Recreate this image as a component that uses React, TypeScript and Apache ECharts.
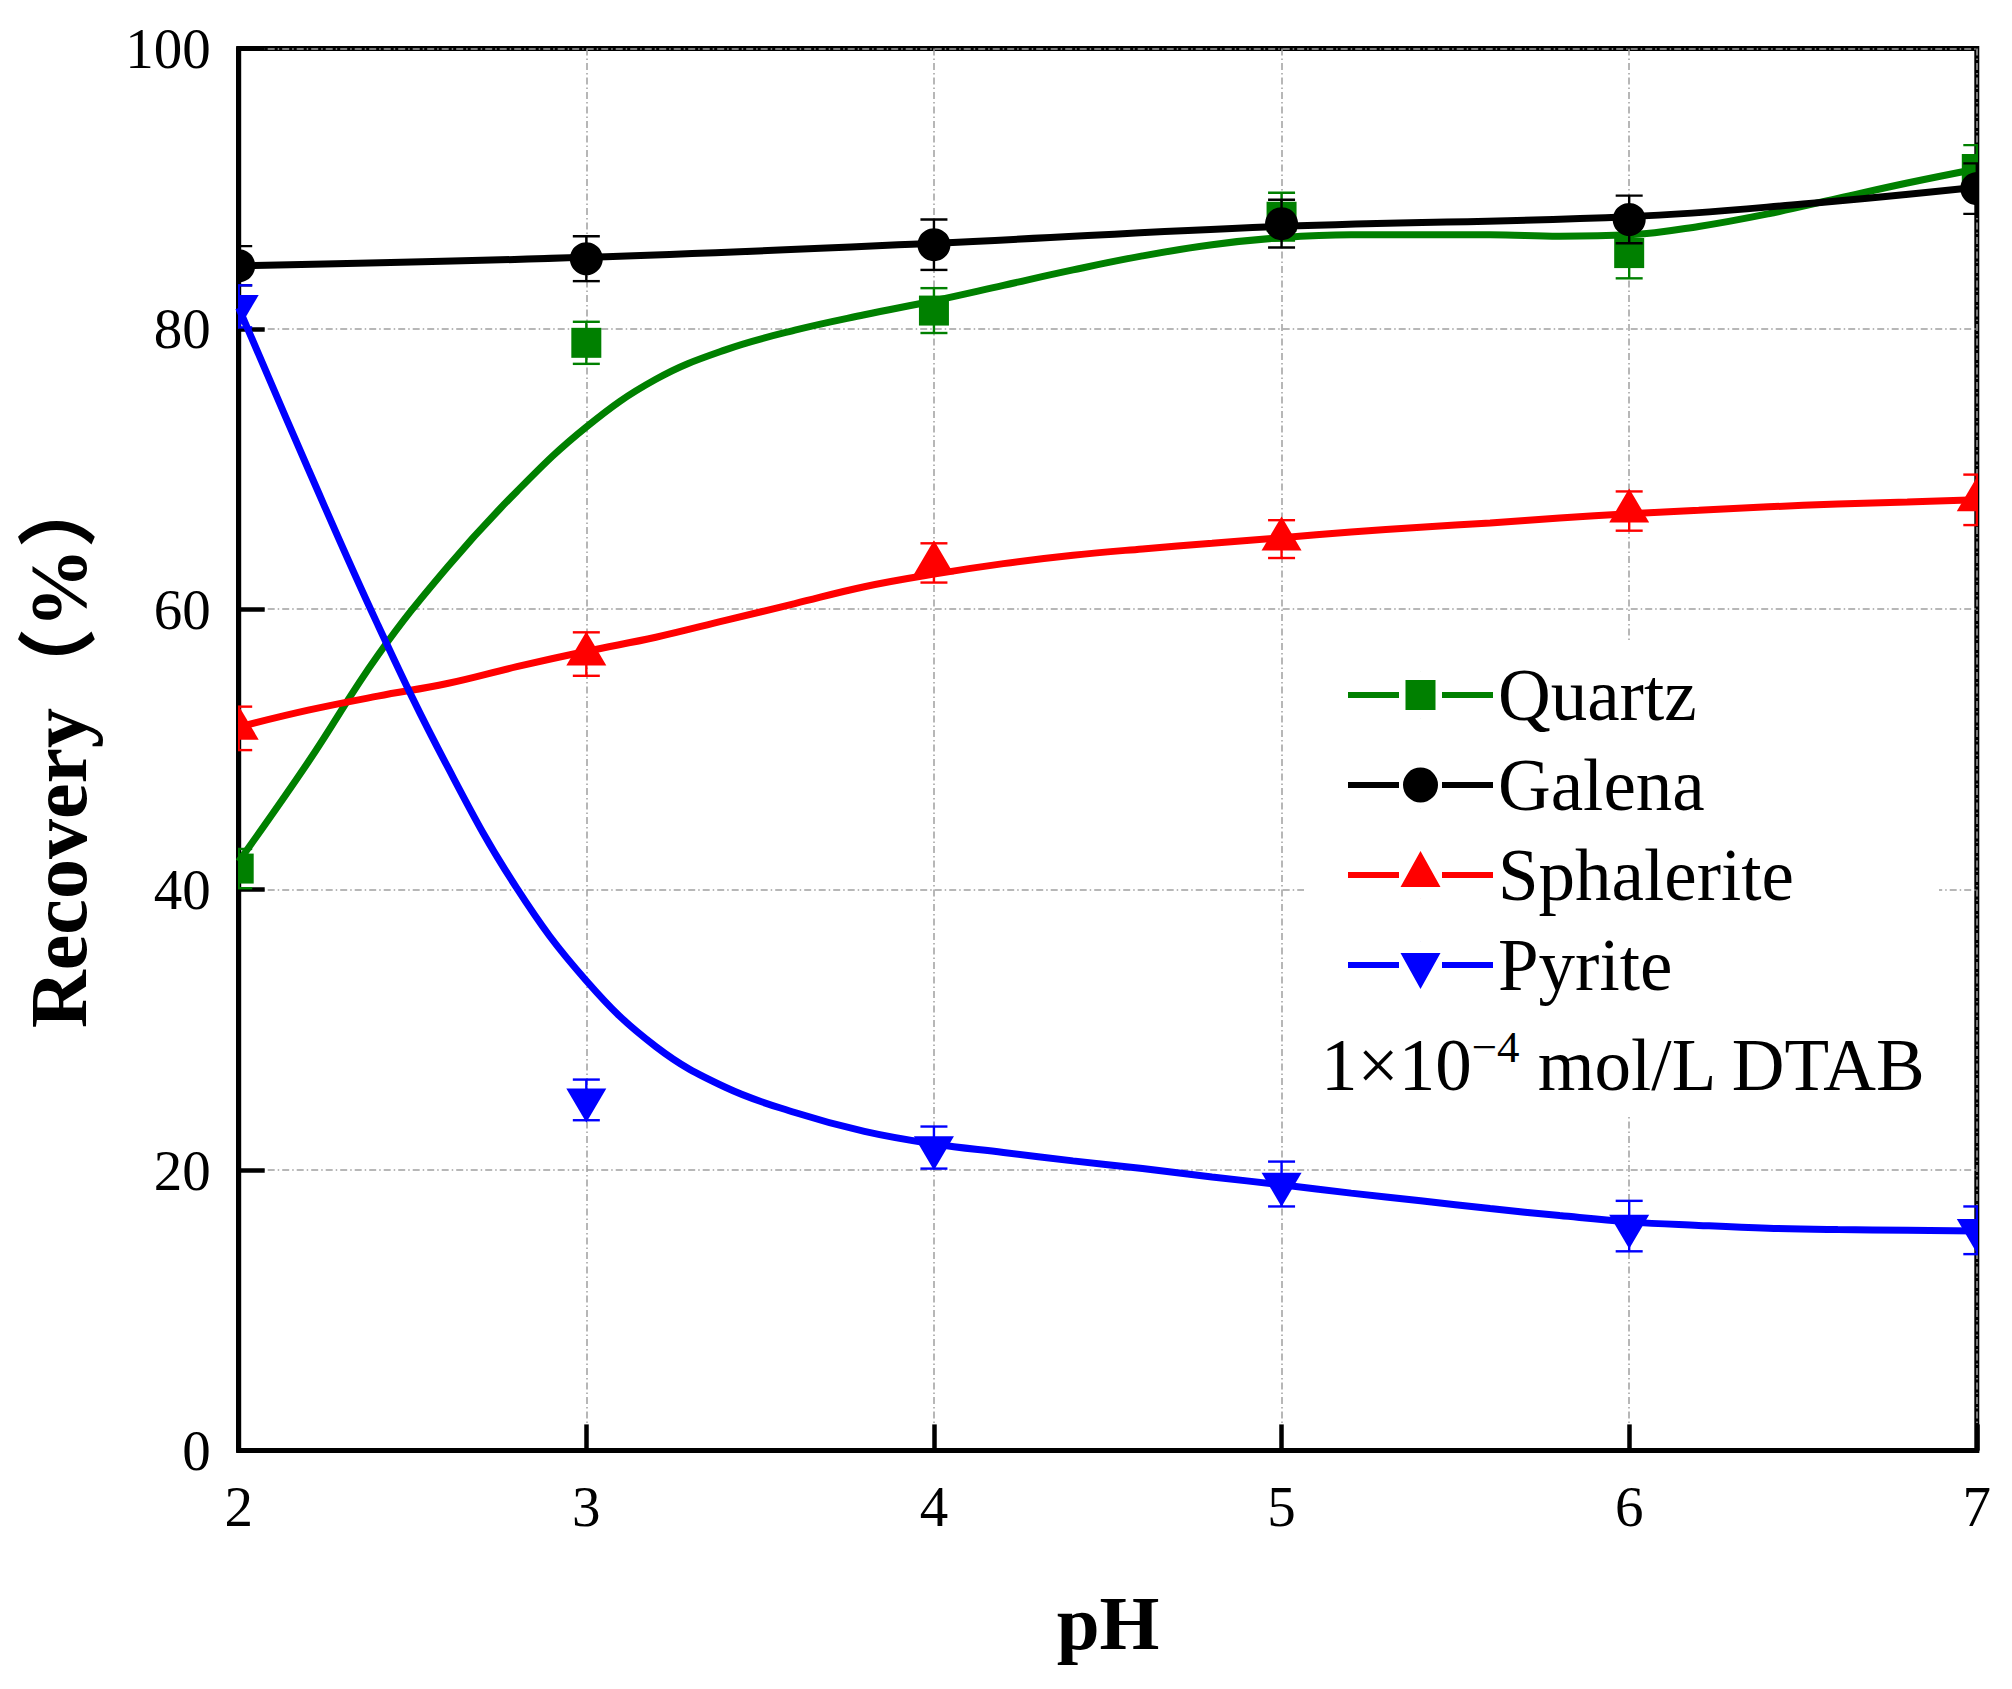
import React, { useEffect, useRef } from 'react';
import * as echarts from 'echarts';

// ---- data ----
const pH = [2, 3, 4, 5, 6, 7];
const quartz = [41.5, 79.0, 81.3, 88.0, 85.4, 91.4];
const quartzErr = [1.4, 1.5, 1.6, 1.7, 1.8, 1.7];
const galena = [84.5, 85.0, 86.0, 87.5, 87.8, 90.0];
const galenaErr = [1.4, 1.6, 1.8, 1.7, 1.7, 1.8];
const sphalerite = [51.5, 56.8, 63.3, 65.0, 67.0, 67.8];
const sphaleriteErr = [1.55, 1.55, 1.4, 1.35, 1.4, 1.8];
const pyrite = [81.6, 25.0, 21.6, 19.0, 16.0, 15.7];
const pyriteErr = [1.5, 1.45, 1.5, 1.6, 1.8, 1.7];

// fitted curves
const fitPH = [2, 2.2, 2.4, 2.6, 2.8, 3, 3.2, 3.4, 3.6, 3.8, 4, 4.2, 4.4, 4.6, 4.8, 5, 5.2, 5.4, 5.6, 5.8, 6, 6.2, 6.4, 6.6, 6.8, 7];
const quartzFit = [42.0, 49.1, 56.7, 63.0, 68.4, 73.0, 76.4, 78.5, 79.9, 81.0, 82.0, 83.1, 84.2, 85.2, 86.0, 86.5, 86.7, 86.7, 86.7, 86.6, 86.7, 87.3, 88.2, 89.3, 90.4, 91.4];
const sphaleriteFit = [51.6, 52.8, 53.8, 54.7, 55.9, 57.0, 58.0, 59.2, 60.4, 61.6, 62.5, 63.25, 63.85, 64.3, 64.7, 65.1, 65.5, 65.85, 66.15, 66.5, 66.8, 67.05, 67.3, 67.5, 67.65, 67.8];
const pyriteFit = [81.5, 70.0, 58.9, 48.8, 40.1, 33.5, 28.8, 25.9, 24.1, 22.75, 21.85, 21.25, 20.65, 20.1, 19.5, 18.95, 18.35, 17.8, 17.25, 16.75, 16.3, 16.05, 15.85, 15.75, 15.7, 15.65];
const galenaFitPH = [2, 3, 4, 5, 6, 6.5, 7];
const galenaFit = [84.5, 85.1, 86.1, 87.3, 88.0, 88.9, 90.1];

const names = ['Quartz', 'Galena', 'Sphalerite', 'Pyrite'];
const colors = ['#008000', '#000000', '#ff0000', '#0000ff'];
const markers = ['square', 'circle', 'up', 'down'];
const noteParts = ['1×10', '−4', ' mol/L DTAB'];

const FONT = "'Liberation Serif', 'Times New Roman', 'Noto Sans CJK SC', serif";

const tiny = ' M72.4,0 h0.2 v0.2 h-0.2 Z M72.4,47.8 h0.2 v0.2 h-0.2 Z';
const lines = 'M0,21 h51 v6 h-51 Z M94,21 h51 v6 h-51 Z ';
const icons = [
  'path://' + lines + 'M57.5,9 h30 v30 h-30 Z' + tiny,
  'path://' + lines + 'M55,24 a17.5,17.5 0 1,0 35,0 a17.5,17.5 0 1,0 -35,0 Z' + tiny,
  'path://' + lines + 'M52.5,36 L72.5,0 L92.5,36 Z' + tiny,
  'path://' + lines + 'M52.5,12 L92.5,12 L72.5,48 Z' + tiny,
];

function measure(text: string, size: number): number {
  const cv = document.createElement('canvas');
  const ctx = cv.getContext('2d');
  if (!ctx) return text.length * size * 0.5;
  ctx.font = `${size}px ${FONT}`;
  return ctx.measureText(text).width;
}

function pointSeries(i: number, vals: number[], errs: number[]) {
  const color = colors[i];
  const kind = markers[i];
  return {
    type: 'custom',
    name: names[i],
    z: 3,
    clip: true,
    itemStyle: { color },
    data: pH.map((x, k) => [x, vals[k], errs[k]]),
    renderItem: (params: any, api: any) => {
      const x = api.value(0);
      const y = api.value(1);
      const e = api.value(2);
      const c = api.coord([x, y]);
      const lo = api.coord([x, y - e]);
      const hi = api.coord([x, y + e]);
      const hw = 13.5;
      const ls = { stroke: color, lineWidth: 2.4 };
      const children: any[] = [
        { type: 'line', shape: { x1: lo[0], y1: lo[1], x2: hi[0], y2: hi[1] }, style: ls },
        { type: 'line', shape: { x1: lo[0] - hw, y1: lo[1], x2: lo[0] + hw, y2: lo[1] }, style: ls },
        { type: 'line', shape: { x1: hi[0] - hw, y1: hi[1], x2: hi[0] + hw, y2: hi[1] }, style: ls },
      ];
      const cx = c[0];
      const cy = c[1];
      const fill = { fill: color };
      if (kind === 'square') {
        children.push({ type: 'rect', shape: { x: cx - 15, y: cy - 15, width: 30, height: 30 }, style: fill });
      } else if (kind === 'circle') {
        children.push({ type: 'circle', shape: { cx, cy, r: 16.5 }, style: fill });
      } else if (kind === 'up') {
        const h = 34;
        children.push({ type: 'polygon', shape: { points: [[cx, cy - (2 * h) / 3], [cx + 20, cy + h / 3], [cx - 20, cy + h / 3]] }, style: fill });
      } else {
        const h = 34;
        children.push({ type: 'polygon', shape: { points: [[cx - 20, cy - h / 3], [cx + 20, cy - h / 3], [cx, cy + (2 * h) / 3]] }, style: fill });
      }
      return { type: 'group', children };
    },
  };
}

function fitSeries(i: number, xs: number[], ys: number[]) {
  return {
    type: 'line',
    name: names[i] + ' fit',
    z: 2,
    smooth: 0.4,
    showSymbol: false,
    symbol: 'none',
    clip: true,
    lineStyle: { color: colors[i], width: 7 },
    itemStyle: { color: colors[i] },
    data: xs.map((x, k) => [x, ys[k]]),
  };
}

export default function App() {
  const ref = useRef<HTMLDivElement>(null);
  useEffect(() => {
    document.body.style.margin = '0';
    if (!ref.current) return;
    const chart = echarts.init(ref.current, undefined, { renderer: 'svg' });
    const gridLine = { color: '#a0a0a0', width: 1.5, type: [7, 3, 1.5, 3] };
    const axisCommon = {
      axisLine: { show: true, lineStyle: { color: '#000', width: 5 } },
      axisTick: { show: true, inside: true, length: 26, lineStyle: { color: '#000', width: 4.5 } },
      axisLabel: { color: '#000', fontFamily: FONT, fontSize: 57, margin: 28 },
      splitLine: { show: true, lineStyle: gridLine },
    };
    const noteX = 1321;
    const mainSize = 73;
    const supSize = 45;
    const w1 = measure(noteParts[0], mainSize);
    const w2 = measure(noteParts[1], supSize);
    const mainMid = 1090 - 0.3375 * mainSize;
    const supMid = 1032 + 0.338 * supSize;
    chart.setOption({
      animation: false,
      backgroundColor: '#fff',
      grid: {
        left: 238.7,
        top: 48.4,
        right: 35.2,
        bottom: 238.6,
        show: true,
        borderColor: '#000',
        borderWidth: 5,
        backgroundColor: 'transparent',
      },
      xAxis: { type: 'value', min: 2, max: 7, interval: 1, ...axisCommon },
      yAxis: { type: 'value', min: 0, max: 100, interval: 20, ...axisCommon },
      legend: {
        orient: 'vertical',
        left: 1348,
        top: 650,
        padding: 0,
        itemGap: 0,
        itemWidth: 145,
        itemHeight: 48,
        selectedMode: false,
        itemStyle: { borderWidth: 0 },
        textStyle: { fontFamily: FONT, fontSize: 73, color: '#000', lineHeight: 90 },
        data: names.map((n, i) => ({ name: n, icon: icons[i] })),
      },
      graphic: [
        { type: 'rect', z: 1, silent: true, shape: { x: 1304, y: 643, width: 635, height: 473 }, style: { fill: '#fff' } },
        {
          type: 'text', z: 5, x: noteX, y: mainMid,
          style: { text: noteParts[0], fontFamily: FONT, fontSize: mainSize, fill: '#000', align: 'left', verticalAlign: 'middle' },
        },
        {
          type: 'text', z: 5, x: noteX + w1, y: supMid,
          style: { text: noteParts[1], fontFamily: FONT, fontSize: supSize, fill: '#000', align: 'left', verticalAlign: 'middle' },
        },
        {
          type: 'text', z: 5, x: noteX + w1 + w2, y: mainMid,
          style: { text: noteParts[2], fontFamily: FONT, fontSize: mainSize, fill: '#000', align: 'left', verticalAlign: 'middle' },
        },
        {
          type: 'text', z: 5, x: 59, y: 748, rotation: Math.PI / 2,
          style: { text: 'Recovery（%）', fontFamily: FONT, fontWeight: 'bold', fontSize: 80, fill: '#000', align: 'center', verticalAlign: 'middle' },
        },
        {
          type: 'text', z: 5, x: 1108, y: 1623,
          style: { text: 'pH', fontFamily: FONT, fontWeight: 'bold', fontSize: 77, fill: '#000', align: 'center', verticalAlign: 'middle' },
        },
      ],
      series: [
        fitSeries(0, fitPH, quartzFit),
        fitSeries(1, galenaFitPH, galenaFit),
        fitSeries(2, fitPH, sphaleriteFit),
        fitSeries(3, fitPH, pyriteFit),
        pointSeries(0, quartz, quartzErr),
        pointSeries(1, galena, galenaErr),
        pointSeries(2, sphalerite, sphaleriteErr),
        pointSeries(3, pyrite, pyriteErr),
      ],
    });
    return () => chart.dispose();
  }, []);
  return <div ref={ref} style={{ width: 2012, height: 1689 }} />;
}
